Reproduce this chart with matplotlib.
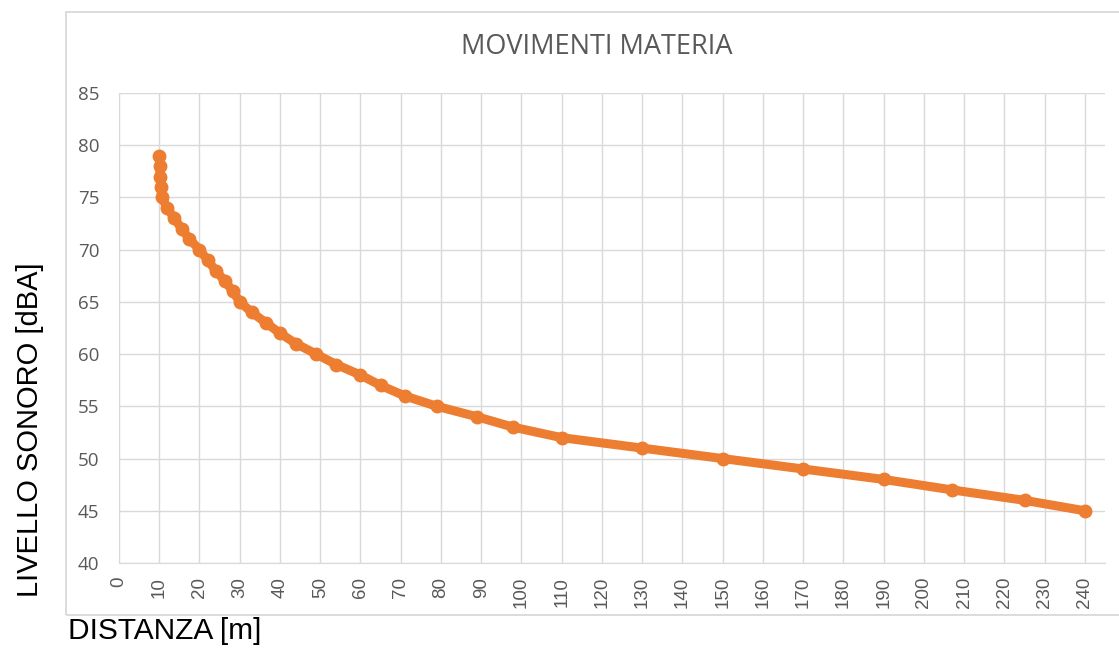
import matplotlib
matplotlib.use("Agg")
import matplotlib.pyplot as plt
from matplotlib.patches import Rectangle

title = "MOVIMENTI MATERIA"
x_label = "DISTANZA [m]"
y_label = "LIVELLO SONORO [dBA]"

distanza = [10, 10.1, 10.2, 10.4, 10.6, 12, 13.7, 15.6, 17.5, 20, 22, 24, 26.3, 28.3,
            30, 33, 36.5, 40, 44, 49, 54, 60, 65, 71, 79, 89, 98, 110, 130, 150,
            170, 190, 207, 225, 240]
livello = [79, 78, 77, 76, 75, 74, 73, 72, 71, 70, 69, 68, 67, 66, 65, 64, 63, 62, 61,
           60, 59, 58, 57, 56, 55, 54, 53, 52, 51, 50, 49, 48, 47, 46, 45]

x_ticks = list(range(0, 241, 10))
y_ticks = list(range(40, 86, 5))

W, H = 1119, 650
fig = plt.figure(figsize=(W / 100, H / 100), dpi=100)
fig.patch.set_facecolor("white")

# outer chart-area box
fig.patches.append(Rectangle((66 / W, 1 - 615 / H), (W + 5 - 66) / W, (615 - 12) / H,
                             transform=fig.transFigure, fill=False,
                             edgecolor="#D9D9D9", linewidth=1.3))

ax = fig.add_axes([119 / W, 1 - 563 / H, (1105 - 119) / W, (563 - 93) / H])
ax.plot(distanza, livello, color="#ED7D31", linewidth=6.5, marker="o",
        markersize=9, markeredgecolor="#ED7D31", markerfacecolor="#ED7D31",
        solid_capstyle="round", solid_joinstyle="round", zorder=3)

ax.set_xlim(0, 245)
ax.set_ylim(40, 85)
ax.set_xticks(x_ticks)
ax.set_yticks(y_ticks)
ax.set_xticklabels([str(t) for t in x_ticks], rotation=90, fontsize=13.5,
                   color="#595959", family="Liberation Sans")
ax.set_yticklabels([str(t) for t in y_ticks], fontsize=13.5, color="#595959",
                   family="Open Sans")
ax.tick_params(axis="both", length=0)
ax.tick_params(axis="x", pad=10)
ax.tick_params(axis="y", pad=14)
ax.grid(True, color="#D9D9D9", linewidth=1)
ax.set_axisbelow(True)
for s in ax.spines.values():
    s.set_visible(False)
ax.spines["bottom"].set_visible(True)
ax.spines["bottom"].set_color("#D9D9D9")
ax.spines["left"].set_visible(True)
ax.spines["left"].set_color("#D9D9D9")

fig.text((460 + 733) / 2 / W, 1 - 47 / H, title, ha="center", va="center",
         fontsize=19.5, color="#595959", family="Open Sans")
fig.text(30 / W, 1 - 430 / H, y_label, rotation=90, ha="center", va="center",
         fontsize=21, color="black", family="Liberation Sans")
fig.text(68 / W, 1 - 631 / H, x_label, ha="left", va="center",
         fontsize=21.5, color="black", family="Liberation Sans")

fig.savefig("out.png", dpi=100)
